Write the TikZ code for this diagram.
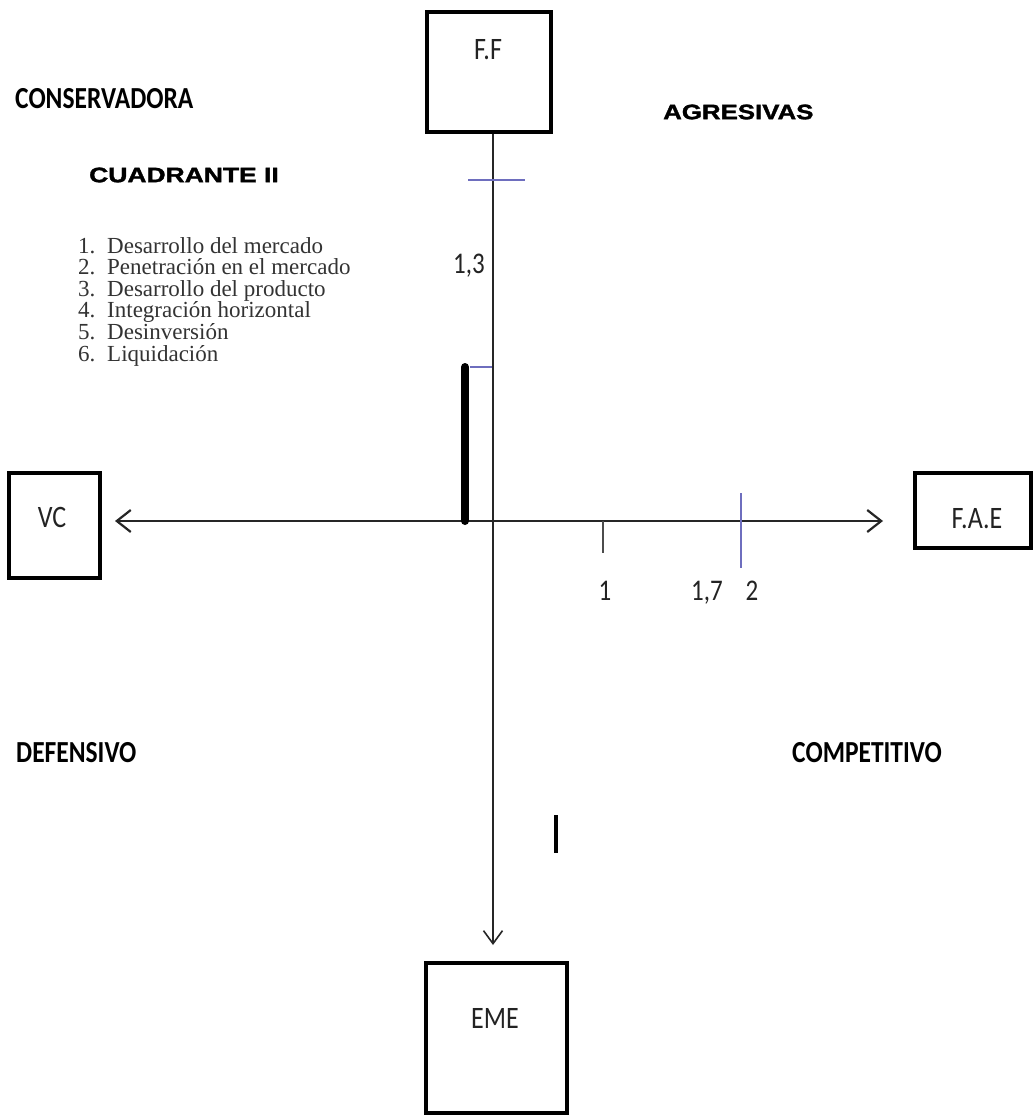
\documentclass[tikz,border=0pt]{standalone}
\usepackage{fontspec}
\usetikzlibrary{arrows.meta}
\newfontfamily\calfont{Carlito}
\newfontfamily\heavyfont[FakeBold=1.5]{Liberation Sans Bold}
\newfontfamily\serfont{Liberation Serif}
\definecolor{tickblue}{RGB}{110,110,190}
\definecolor{labgray}{RGB}{35,35,35}
\newcommand{\talltext}[1]{\scalebox{1}[1.2]{#1}}
\tikzset{
  boxnode/.style={draw=black, line width=4pt, inner sep=0pt, fill=none},
  boxlabel/.style={inner sep=0pt, font=\calfont\fontsize{26}{30}\selectfont, text=labgray},
  quadlabel/.style={inner sep=0pt, anchor=west, font=\calfont\bfseries\fontsize{25.5}{30}\selectfont},
  heavylabel/.style={inner sep=0pt, anchor=west},
  numlabel/.style={inner sep=0pt, anchor=base, font=\calfont\fontsize{25}{30}\selectfont, text=labgray},
  listnum/.style={inner sep=0pt, anchor=base west, font=\serfont\fontsize{23}{26}\selectfont, text=black!80},
  listtxt/.style={inner sep=0pt, anchor=base west, font=\serfont\fontsize{23}{26}\selectfont, text=black!80},
  axis/.style={line width=2.6pt, black!85},
  vaxis/.style={line width=1.4pt, black!85},
  bluetick/.style={line width=1.6pt, tickblue},
  opentip/.tip={Straight Barb[length=14pt,width=22pt,line width=2.2pt]},
}
\begin{document}
\begin{tikzpicture}[x=1pt,y=-1pt]
\fill[white] (0,0) rectangle (1034,1119);
\useasboundingbox (0,0) rectangle (1034,1119);

% origin
\coordinate (O) at (493,521);

% boxes
\node[boxnode, minimum width=124pt, minimum height=120pt] (FF) at (489,72) {};
\node[boxnode, minimum width=91pt, minimum height=105pt] (VC) at (54.5,525.5) {};
\node[boxnode, minimum width=116pt, minimum height=75pt] (FAE) at (973,510.5) {};
\node[boxnode, minimum width=141pt, minimum height=150pt] (EME) at (496.5,1038) {};

% box labels
\node[boxlabel] (FFt) at (488,50) {\talltext{F.F}};
\node[boxlabel] (VCt) at (52,517) {\talltext{VC}};
\node[boxlabel] (FAEt) at (977,519) {\talltext{F.A.E}};
\node[boxlabel] (EMEt) at (495,1018) {\talltext{EME}};

% axes
\coordinate (Vtop) at (O |- FF.south);
\coordinate (Vmid) at (493,237);
\draw[line width=2pt, black!85] (Vtop) -- (Vmid);
\draw[vaxis, -{Straight Barb[length=13pt,width=19pt,line width=1.6pt]}, shorten >=16pt] (Vmid) -- (O |- EME.north);
\draw[axis, opentip-opentip, shorten <=13pt, shorten >=30pt] (VC.east |- O) -- (FAE.west |- O);

% thick bar
\draw[line width=8pt, line cap=round, black] (465,367) -- (465,521);

% ticks
\draw[bluetick] (468,180) -- (525,180);
\draw[bluetick] (470,367) -- (492,367);
\draw[line width=1.4pt, black!70] (603,521) -- (603,553);
\draw[bluetick] (741,493) -- (741,568);

% tick labels
\node[numlabel] (l13) at (469,273) {\talltext{1,3}};
\node[numlabel] (l1) at (605,600) {\talltext{1}};
\node[numlabel] (l17) at (707,600) {\talltext{1,7}};
\node[numlabel] (l2) at (752,600) {\talltext{2}};

% I mark
\draw[line width=4.5pt, black] (556,815) -- (556,853);

% quadrant labels
\node[quadlabel] (cons) at (15,99) {\talltext{CONSERVADORA}};
\node[quadlabel] (def) at (16,753) {\talltext{DEFENSIVO}};
\node[quadlabel] (comp) at (792,753) {\talltext{COMPETITIVO}};
\node[heavylabel] (cuad) at (89,175) {\scalebox{1.26}[1]{\heavyfont\fontsize{21}{25}\selectfont CUADRANTE II}};
\node[heavylabel] (agr) at (663,112) {\scalebox{1.23}[1]{\heavyfont\fontsize{21}{25}\selectfont AGRESIVAS}};

% list
\node[listnum] (n1) at (78,253) {1.};
\node[listtxt] (t1) at (107,253) {Desarrollo del mercado};
\node[listnum] (n2) at (78,274.6) {2.};
\node[listtxt] (t2) at (107,274.6) {Penetración en el mercado};
\node[listnum] (n3) at (78,296.2) {3.};
\node[listtxt] (t3) at (107,296.2) {Desarrollo del producto};
\node[listnum] (n4) at (78,317.8) {4.};
\node[listtxt] (t4) at (107,317.8) {Integración horizontal};
\node[listnum] (n5) at (78,339.4) {5.};
\node[listtxt] (t5) at (107,339.4) {Desinversión};
\node[listnum] (n6) at (78,361) {6.};
\node[listtxt] (t6) at (107,361) {Liquidación};
\end{tikzpicture}
\end{document}
